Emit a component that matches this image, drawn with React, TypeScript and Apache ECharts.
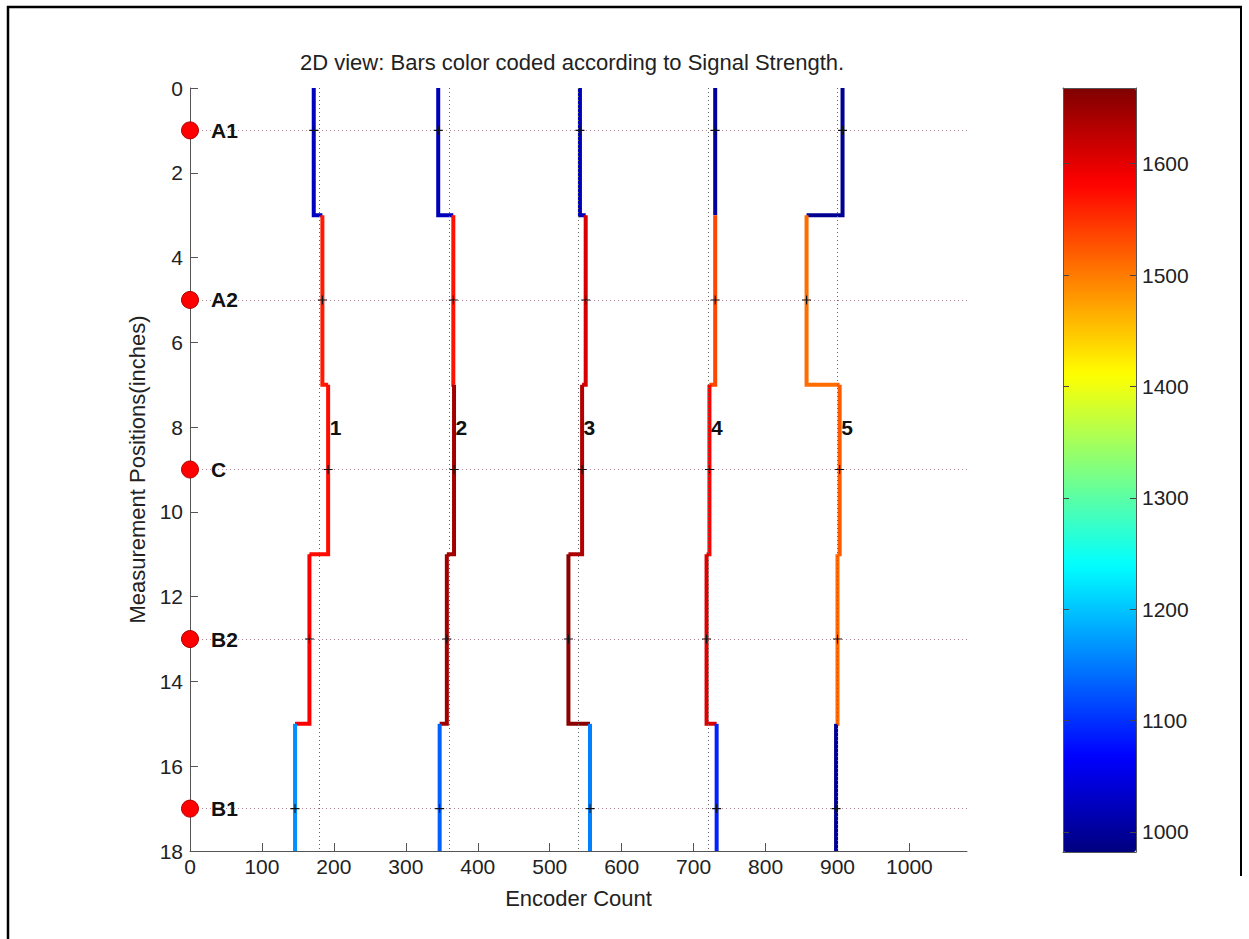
import React, { useEffect, useRef } from "react";
import * as echarts from "echarts";

// ---- data ----
const yBreaks = [0, 3, 7, 11, 15, 18];
const bar1X = [172, 184, 192, 166, 146];
const bar2X = [345, 366, 367, 357, 347];
const bar3X = [542, 550, 545, 526, 556];
const bar4X = [730, 730, 722, 718, 732];
const bar5X = [907, 857, 903, 900, 898];
const bar1S = [1025, 1565, 1575, 1585, 1164];
const bar2S = [1022, 1570, 1645, 1645, 1133];
const bar3S = [1018, 1610, 1635, 1660, 1153];
const bar4S = [1000, 1535, 1580, 1605, 1090];
const bar5S = [995, 1510, 1522, 1512, 999];
const barNames = ["1", "2", "3", "4", "5"];
const barLabelY = 8;
const refLinesX = [180, 360, 540, 720, 900];
const pointNames = ["A1", "A2", "C", "B2", "B1"];
const pointY = [1, 5, 9, 13, 17];
const xTicks = [0, 100, 200, 300, 400, 500, 600, 700, 800, 900, 1000];
const colorbarTicks = [1000, 1100, 1200, 1300, 1400, 1500, 1600];
const colorbarMin = 982;
const colorbarMax = 1668;
const jetColors = ["#000080", "#0000ff", "#0080ff", "#00ffff", "#80ff80", "#ffff00", "#ff8000", "#ff0000", "#800000"];

const FONT = "Liberation Sans, Arial, Helvetica, sans-serif";

export default function App() {
  const ref = useRef<HTMLDivElement>(null);
  useEffect(() => {
    if (!ref.current) return;
    const chart = echarts.init(ref.current, undefined, { renderer: "svg" });
    const barXs = [bar1X, bar2X, bar3X, bar4X, bar5X];
    const barSs = [bar1S, bar2S, bar3S, bar4S, bar5S];

    const segData: number[][] = [];
    barXs.forEach((xs, b) => {
      xs.forEach((x, i) => {
        const next = i < xs.length - 1 ? xs[i + 1] : x;
        segData.push([x, yBreaks[i], yBreaks[i + 1], next, barSs[b][i]]);
      });
    });

    const segAt = (y: number) => {
      for (let k = 0; k < yBreaks.length - 1; k++) {
        if (y >= yBreaks[k] && y < yBreaks[k + 1]) return k;
      }
      return yBreaks.length - 2;
    };
    const plusData: number[][] = [];
    barXs.forEach((xs) => {
      pointY.forEach((y) => plusData.push([xs[segAt(y)], y]));
    });
    const labelSeg = segAt(barLabelY);
    const barLabelData = barXs.map((xs, b) => ({ name: barNames[b], value: [xs[labelSeg], barLabelY] }));
    const pointData = pointNames.map((n, i) => ({ name: n, value: [0, pointY[i]] }));

    const axisGray = "#555555";
    const textColor = "#222222";
    const plain = (v: number) => String(v);

    chart.setOption({
      animation: false,
      backgroundColor: "#ffffff",
      textStyle: { fontFamily: FONT },
      title: {
        text: "2D view: Bars color coded according to Signal Strength.",
        left: 300,
        top: 51,
        padding: 0,
        textStyle: { fontFamily: FONT, fontSize: 22, fontWeight: "normal", color: textColor },
      },
      grid: [
        { left: 190, top: 88, width: 777, height: 763 },
        { left: 1063, top: 88, width: 73, height: 764 },
      ],
      xAxis: [
        {
          gridIndex: 0,
          type: "value",
          min: 0,
          max: 1080,
          interval: 100,
          name: "Encoder Count",
          nameLocation: "middle",
          nameGap: 36,
          nameTextStyle: { fontFamily: FONT, fontSize: 22, color: textColor },
          axisLine: { onZero: false, lineStyle: { color: axisGray, width: 1 } },
          axisTick: { inside: true, length: 8, customValues: xTicks, lineStyle: { color: axisGray } },
          axisLabel: { margin: 5, customValues: xTicks, formatter: plain, fontFamily: FONT, fontSize: 21, color: textColor },
          splitLine: { show: false },
        },
        {
          gridIndex: 1,
          type: "value",
          min: 0,
          max: 1,
          position: "bottom",
          z: 10,
          axisLine: { onZero: false, lineStyle: { color: axisGray, width: 1 } },
          axisTick: { show: false },
          axisLabel: { show: false },
          splitLine: { show: false },
        },
        {
          gridIndex: 1,
          type: "value",
          min: 0,
          max: 1,
          position: "top",
          z: 10,
          axisLine: { onZero: false, lineStyle: { color: axisGray, width: 1 } },
          axisTick: { show: false },
          axisLabel: { show: false },
          splitLine: { show: false },
        },
      ],
      yAxis: [
        {
          gridIndex: 0,
          type: "value",
          inverse: true,
          min: 0,
          max: 18,
          interval: 2,
          name: "Measurement Positions(inches)",
          nameLocation: "middle",
          nameGap: 33,
          nameTextStyle: { fontFamily: FONT, fontSize: 22, color: textColor },
          axisLine: { show: true, onZero: false, lineStyle: { color: axisGray, width: 1 } },
          axisTick: { show: true, inside: true, length: 8, lineStyle: { color: axisGray } },
          axisLabel: { margin: 7, formatter: plain, fontFamily: FONT, fontSize: 21, color: textColor },
          splitLine: { show: false },
        },
        {
          gridIndex: 1,
          type: "value",
          min: colorbarMin,
          max: colorbarMax,
          position: "right",
          z: 10,
          axisLine: { show: true, onZero: false, lineStyle: { color: axisGray, width: 1 } },
          axisTick: { show: true, inside: true, length: 6, customValues: colorbarTicks, lineStyle: { color: "#444" } },
          axisLabel: { show: true, margin: 6, customValues: colorbarTicks, formatter: plain, fontFamily: FONT, fontSize: 21, color: textColor },
          splitLine: { show: false },
        },
        {
          gridIndex: 1,
          type: "value",
          min: colorbarMin,
          max: colorbarMax,
          position: "left",
          z: 10,
          axisLine: { show: true, onZero: false, lineStyle: { color: axisGray, width: 1 } },
          axisTick: { show: true, inside: true, length: 6, customValues: colorbarTicks, lineStyle: { color: "#444" } },
          axisLabel: { show: false },
          splitLine: { show: false },
        },
      ],
      visualMap: {
        type: "continuous",
        min: colorbarMin,
        max: colorbarMax,
        dimension: 4,
        seriesIndex: 1,
        calculable: false,
        hoverLink: false,
        left: 1063,
        top: 88,
        padding: 0,
        itemWidth: 73,
        itemHeight: 764,
        text: null,
        showLabel: false,
        inRange: { color: jetColors },
      },
      series: [
        {
          type: "line",
          xAxisIndex: 0,
          yAxisIndex: 0,
          data: [],
          silent: true,
          markLine: {
            silent: true,
            symbol: ["none", "none"],
            label: { show: false },
            animation: false,
            data: [
              ...pointY.map((y) => ({ yAxis: y, lineStyle: { color: "#b4869c", width: 1, type: [1, 3] } })),
              ...refLinesX.map((x) => ({ xAxis: x, lineStyle: { color: "#666666", width: 1, type: [1, 3] } })),
            ],
          },
        },
        {
          type: "custom",
          xAxisIndex: 0,
          yAxisIndex: 0,
          data: segData,
          encode: { x: [0, 3], y: [1, 2] },
          renderItem: (params: any, api: any) => {
            const x = api.value(0);
            const y0 = api.value(1);
            const y1 = api.value(2);
            const xn = api.value(3);
            const pts = [api.coord([x, y0]), api.coord([x, y1]), api.coord([xn, y1])];
            return {
              type: "polyline",
              shape: { points: pts },
              style: { stroke: api.visual("color"), lineWidth: 4, fill: null, lineJoin: "miter" },
            };
          },
          z: 3,
        },
        {
          type: "scatter",
          xAxisIndex: 0,
          yAxisIndex: 0,
          data: plusData,
          symbol: "path://M4.4,0h1.2v4.4h4.4v1.2h-4.4v4.4h-1.2v-4.4h-4.4v-1.2h4.4z",
          symbolSize: 9,
          itemStyle: { color: "#111111", opacity: 1 },
          silent: true,
          z: 5,
        },
        {
          type: "scatter",
          xAxisIndex: 0,
          yAxisIndex: 0,
          data: barLabelData,
          symbolSize: 1,
          itemStyle: { color: "rgba(0,0,0,0)", opacity: 1 },
          label: {
            show: true,
            position: "right",
            distance: 1,
            formatter: "{b}",
            fontFamily: FONT,
            fontSize: 21,
            fontWeight: "bold",
            color: "#111111",
          },
          silent: true,
          z: 6,
        },
        {
          type: "scatter",
          xAxisIndex: 0,
          yAxisIndex: 0,
          data: pointData,
          clip: false,
          symbol: "circle",
          symbolSize: 17,
          itemStyle: { color: "#ff0000", borderColor: "#b00000", borderWidth: 1, opacity: 1 },
          label: {
            show: true,
            position: "right",
            distance: 12,
            formatter: "{b}",
            fontFamily: FONT,
            fontSize: 21,
            fontWeight: "bold",
            color: "#111111",
          },
          silent: true,
          z: 6,
        },
      ],
      graphic: [
        { type: "line", shape: { x1: 7, y1: 7, x2: 1242, y2: 7 }, style: { stroke: "#000", lineWidth: 2.5 }, silent: true },
        { type: "line", shape: { x1: 8, y1: 6, x2: 8, y2: 939 }, style: { stroke: "#000", lineWidth: 2.5 }, silent: true },
        { type: "line", shape: { x1: 1241, y1: 6, x2: 1241, y2: 876 }, style: { stroke: "#000", lineWidth: 2 }, silent: true },
      ],
    });
    return () => chart.dispose();
  }, []);
  return <div ref={ref} style={{ position: "fixed", left: 0, top: 0, width: 1249, height: 939 }} />;
}
